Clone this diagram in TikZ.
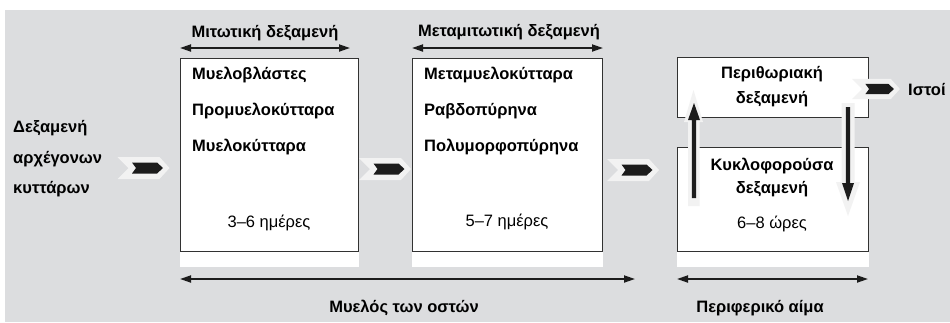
\documentclass[tikz,border=0pt]{standalone}
\usepackage{fontspec}
\setmainfont{Liberation Sans}
\usetikzlibrary{arrows.meta,calc}
\definecolor{bg}{RGB}{220,221,223}
\definecolor{pale}{RGB}{242,242,242}
\definecolor{ink}{RGB}{28,28,28}
\definecolor{frame}{RGB}{50,50,50}
\begin{document}
\begin{tikzpicture}[x=1pt,y=-1pt,
  box/.style={draw=frame,line width=0.9pt,fill=white,inner sep=0pt,anchor=north west},
  lbl/.style={inner sep=0pt,font=\fontsize{16.5}{19}\selectfont\bfseries},
  reg/.style={inner sep=0pt,font=\fontsize{16.5}{19}\selectfont},
  dim/.style={draw=ink,line width=1.8pt,{Triangle[length=11pt,width=7pt]}-{Triangle[length=11pt,width=7pt]}},
  chev/.pic={
    \fill[pale] (-26,-11) -- (16,-11) -- (26,0) -- (16,11) -- (-26,11) -- (-15,0) -- cycle;
    \fill[ink] (-11.5,-5.5) -- (13.5,-5.5) -- (19.5,0) -- (13.5,5.5) -- (-11.5,5.5) -- (-7.5,0) -- cycle;
  }]
\useasboundingbox (0,0) rectangle (950,322);
\fill[bg] (5,10) rectangle (950,322);

% boxes
\node[box,minimum width=178pt,minimum height=193pt] (b1) at (180,58) {};
\fill[white] (b1.south west) rectangle ($(b1.south east)+(0,15)$);
\node[box,minimum width=190pt,minimum height=193pt] (b2) at (412,58) {};
\fill[white] (b2.south west) rectangle ($(b2.south east)+(0,15)$);
\node[box,minimum width=191pt,minimum height=60pt] (b3) at (677,57) {};
\node[box,minimum width=191pt,minimum height=104pt] (b4) at (677,147) {};
\fill[white] (b4.south west) rectangle ($(b4.south east)+(0,15)$);

% left text
\node[lbl,anchor=base west] (s1) at (13,132) {Δεξαμενή};
\node[lbl,anchor=base west] (s2) at (13,163) {αρχέγονων};
\node[lbl,anchor=base west] (s3) at (13,193) {κυττάρων};

% box 1 text
\node[lbl,anchor=base west] (m1) at (192,79) {Μυελοβλάστες};
\node[lbl,anchor=base west] (m2) at (192,115) {Προμυελοκύτταρα};
\node[lbl,anchor=base west] (m3) at (192,151) {Μυελοκύτταρα};
\node[reg,anchor=base] (d1) at (269,227) {3–6 ημέρες};

% box 2 text
\node[lbl,anchor=base west] (n1) at (424,79) {Μεταμυελοκύτταρα};
\node[lbl,anchor=base west] (n2) at (424,115) {Ραβδοπύρηνα};
\node[lbl,anchor=base west] (n3) at (424,151) {Πολυμορφοπύρηνα};
\node[reg,anchor=base] (d2) at (507,226) {5–7 ημέρες};

% box 3 / 4 text
\node[lbl,anchor=base] (p1) at (772,78) {Περιθωριακή};
\node[lbl,anchor=base] (p2) at (772,103) {δεξαμενή};
\node[lbl,anchor=base] (k1) at (772,170) {Κυκλοφορούσα};
\node[lbl,anchor=base] (k2) at (772,193) {δεξαμενή};
\node[reg,anchor=base] (d3) at (772,228) {6–8 ώρες};

\node[lbl,anchor=base west] (ist) at (908,95) {Ιστοί};

% top labels and dimension arrows
\node[lbl,anchor=base] (t1) at (265,37) {Μιτωτική δεξαμενή};
\node[lbl,anchor=base] (t2) at (509,36) {Μεταμιτωτική δεξαμενή};
\coordinate (a1l) at (180,48); \coordinate (a1r) at (350,48);
\coordinate (a2l) at (412,48); \coordinate (a2r) at (603,48);
\path[dim] (a1l) -- (a1r);
\path[dim] (a2l) -- (a2r);

% bottom labels and dimension arrows
\coordinate (a3l) at (180,279); \coordinate (a3r) at (635,279);
\coordinate (a4l) at (677,279); \coordinate (a4r) at (868,279);
\path[dim] (a3l) -- (a3r);
\path[dim] (a4l) -- (a4r);
\node[lbl,anchor=base] (u1) at (404,312) {Μυελός των οστών};
\node[lbl,anchor=base] (u2) at (760,312) {Περιφερικό αίμα};

% chevrons
\pic at (143.5,168) {chev};
\pic at (385,169) {chev};
\pic at (633,170) {chev};
\pic[scale=0.92] at (876,89) {chev};

% vertical arrows
\fill[pale] (693.5,90) -- (703,122) -- (699.5,122) -- (699.5,206) -- (688,206) -- (688,122) -- (684,122) -- cycle;
\fill[ink] (694,103) -- (700,120) -- (696.2,120) -- (696.2,198) -- (691.8,198) -- (691.8,120) -- (688,120) -- cycle;
\fill[pale] (841.5,103) -- (854.5,103) -- (854.5,182) -- (860,182) -- (848,216) -- (836,182) -- (841.5,182) -- cycle;
\fill[ink] (845.8,107) -- (850.2,107) -- (850.2,183) -- (854,183) -- (848,201) -- (842,183) -- (845.8,183) -- cycle;
\end{tikzpicture}
\end{document}
